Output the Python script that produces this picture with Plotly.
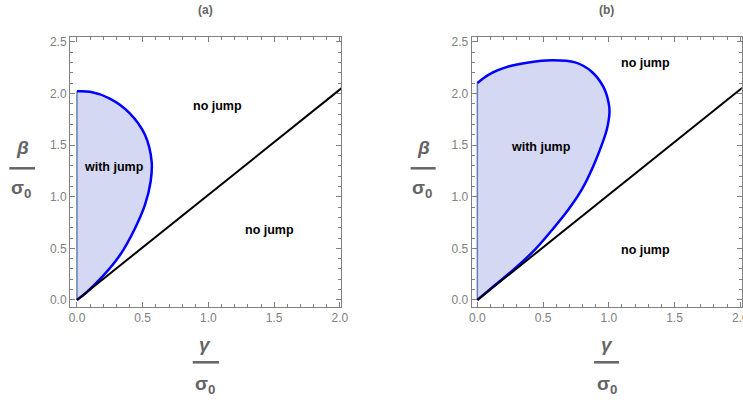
import plotly.graph_objects as go

W, H = 743, 405

# ---- data (gamma/sigma0, beta/sigma0) ----
gamma_a = [0.0, 0.10, 0.25, 0.40, 0.517, 0.568, 0.56, 0.517, 0.44, 0.33, 0.20, 0.074, 0.0]
beta_a = [2.02, 2.015, 1.95, 1.81, 1.60, 1.34, 1.145, 0.92, 0.69, 0.44, 0.235, 0.075, 0.0]

gamma_b = [0.0, 0.084, 0.236, 0.39, 0.566, 0.744, 0.87, 0.96, 1.0, 1.005, 0.985, 0.96,
           0.88, 0.795, 0.69, 0.57, 0.44, 0.29, 0.135, 0.0]
beta_b = [2.10, 2.18, 2.26, 2.30, 2.32, 2.30, 2.21, 2.06, 1.90, 1.81, 1.65, 1.55,
          1.29, 1.07, 0.87, 0.68, 0.49, 0.31, 0.145, 0.0]

gamma_line = [0.0, 2.1]
beta_line = [0.0, 2.14]

panel_titles = ["(a)", "(b)"]
labels_a = [("no jump", 1.07, 1.88), ("with jump", 0.28, 1.29), ("no jump", 1.465, 0.68)]
labels_b = [("no jump", 1.276, 2.29), ("with jump", 0.485, 1.48), ("no jump", 1.276, 0.48)]

FILL = "rgb(213,216,243)"
EDGE = "rgb(94,129,181)"
BLUE = "rgb(0,0,255)"
GRAY = "rgb(128,128,128)"
LBL = "rgb(100,100,100)"
FONT = "Liberation Sans, Arial"

fig = go.Figure()


def px(x):
    return x / W


def py(y):
    return 1 - y / H


panels = [
    dict(g=gamma_a, b=beta_a, labels=labels_a, xa="x", ya="y"),
    dict(g=gamma_b, b=beta_b, labels=labels_b, xa="x2", ya="y2"),
]

for p in panels:
    xa, ya = p["xa"], p["ya"]
    fig.add_trace(go.Scatter(x=p["g"], y=p["b"], mode="lines", fill="toself",
                             fillcolor=FILL, line=dict(width=0, shape="spline"),
                             xaxis=xa, yaxis=ya, hoverinfo="skip", showlegend=False))
    fig.add_trace(go.Scatter(x=[p["g"][0], p["g"][-1]], y=[p["b"][0], p["b"][-1]],
                             mode="lines", line=dict(color=EDGE, width=1.5),
                             xaxis=xa, yaxis=ya, hoverinfo="skip", showlegend=False))
    fig.add_trace(go.Scatter(x=p["g"], y=p["b"], mode="lines",
                             line=dict(color=BLUE, width=2.5, shape="spline"),
                             xaxis=xa, yaxis=ya, hoverinfo="skip", showlegend=False))
    fig.add_trace(go.Scatter(x=gamma_line, y=beta_line, mode="lines",
                             line=dict(color="black", width=2),
                             xaxis=xa, yaxis=ya, hoverinfo="skip", showlegend=False))
    for t, gx, by in p["labels"]:
        fig.add_annotation(x=gx, y=by, xref=xa, yref=ya, text="<b>" + t + "</b>",
                           showarrow=False, xanchor="center", yanchor="middle",
                           font=dict(size=12.5, color="black", family=FONT))

axis_common = dict(showgrid=False, zeroline=False, showline=True, linecolor=GRAY,
                   linewidth=1, mirror="ticks", ticks="inside", ticklen=5,
                   tickcolor=GRAY, tickwidth=1, automargin=False,
                   ticklabeloverflow="allow",
                   tickfont=dict(size=12, color=GRAY, family=FONT),
                   minor=dict(ticks="inside", ticklen=3, tickcolor=GRAY, dtick=0.1,
                              showgrid=False))

ydom = [py(307), py(37)]
fig.update_layout(
    width=W, height=H, margin=dict(l=0, r=0, t=0, b=0, autoexpand=False),
    plot_bgcolor="white", paper_bgcolor="white",
    xaxis=dict(domain=[px(70), px(341)], range=[-0.053, 2.008], dtick=0.5,
               tickformat=".1f", anchor="y", **axis_common),
    yaxis=dict(domain=ydom, range=[-0.068, 2.546], dtick=0.5,
               tickformat=".1f", anchor="x", **axis_common),
    xaxis2=dict(domain=[px(471.7), px(741.7)], range=[-0.043, 2.011], dtick=0.5,
                tickformat=".1f", anchor="y2", **axis_common),
    yaxis2=dict(domain=ydom, range=[-0.068, 2.546], dtick=0.5,
                tickformat=".1f", anchor="x2", **axis_common),
)


def label(x, y, text, size):
    fig.add_annotation(x=px(x), y=py(y), xref="paper", yref="paper", text=text,
                       showarrow=False, xanchor="center", yanchor="middle",
                       font=dict(size=size, color=LBL, family=FONT))


title_pos = [205, 606.7]
ylab_x = [22, 423]
xlab_x = [205, 606.7]
bar_y = [(9.3, 35), (410.7, 435.7)]
bar_x = [(192.7, 219), (594, 619)]
for i in range(2):
    label(title_pos[i], 10, "<b>" + panel_titles[i] + "</b>", 12)
    label(ylab_x[i], 148, "<b><i>β</i></b>", 19)
    fig.add_shape(type="line", xref="paper", yref="paper",
                  x0=px(bar_y[i][0]), x1=px(bar_y[i][1]), y0=py(168.3), y1=py(168.3),
                  line=dict(color=LBL, width=2.5))
    label(ylab_x[i] - 1, 189, "<b>σ<sub>0</sub></b>", 19)
    label(xlab_x[i], 344, "<b><i>γ</i></b>", 19)
    fig.add_shape(type="line", xref="paper", yref="paper",
                  x0=px(bar_x[i][0]), x1=px(bar_x[i][1]), y0=py(362.3), y1=py(362.3),
                  line=dict(color=LBL, width=2.5))
    label(xlab_x[i], 385, "<b>σ<sub>0</sub></b>", 19)

fig.write_html("out.html", config={"displayModeBar": False},
               post_script="document.body.style.margin='0';document.body.style.overflow='hidden';")
